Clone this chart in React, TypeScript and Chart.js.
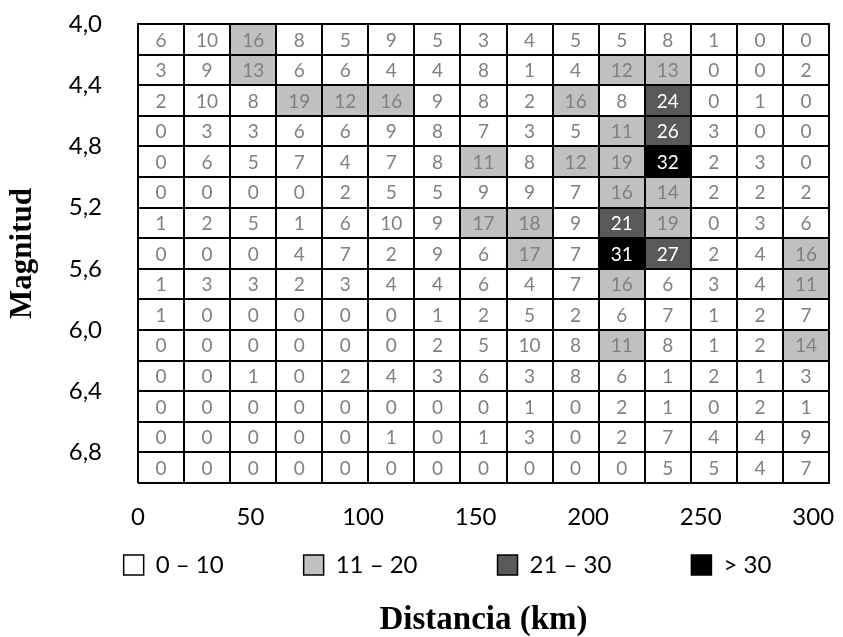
import React, { useEffect, useRef } from 'react';
import { Chart, registerables } from 'chart.js';

Chart.register(...registerables);

// Distance bins (columns, 20 km each) and magnitude rows (top to bottom)
const distanceBins = ['0-20', '20-40', '40-60', '60-80', '80-100', '100-120', '120-140', '140-160', '160-180', '180-200', '200-220', '220-240', '240-260', '260-280', '280-300'];
const magnitudeRows = ['4,0', '4,2', '4,4', '4,6', '4,8', '5,0', '5,2', '5,4', '5,6', '5,8', '6,0', '6,2', '6,4', '6,6', '6,8'];

// Counts per magnitude row, one value per distance bin
const m40 = [6, 10, 16, 8, 5, 9, 5, 3, 4, 5, 5, 8, 1, 0, 0];
const m42 = [3, 9, 13, 6, 6, 4, 4, 8, 1, 4, 12, 13, 0, 0, 2];
const m44 = [2, 10, 8, 19, 12, 16, 9, 8, 2, 16, 8, 24, 0, 1, 0];
const m46 = [0, 3, 3, 6, 6, 9, 8, 7, 3, 5, 11, 26, 3, 0, 0];
const m48 = [0, 6, 5, 7, 4, 7, 8, 11, 8, 12, 19, 32, 2, 3, 0];
const m50 = [0, 0, 0, 0, 2, 5, 5, 9, 9, 7, 16, 14, 2, 2, 2];
const m52 = [1, 2, 5, 1, 6, 10, 9, 17, 18, 9, 21, 19, 0, 3, 6];
const m54 = [0, 0, 0, 4, 7, 2, 9, 6, 17, 7, 31, 27, 2, 4, 16];
const m56 = [1, 3, 3, 2, 3, 4, 4, 6, 4, 7, 16, 6, 3, 4, 11];
const m58 = [1, 0, 0, 0, 0, 0, 1, 2, 5, 2, 6, 7, 1, 2, 7];
const m60 = [0, 0, 0, 0, 0, 0, 2, 5, 10, 8, 11, 8, 1, 2, 14];
const m62 = [0, 0, 1, 0, 2, 4, 3, 6, 3, 8, 6, 1, 2, 1, 3];
const m64 = [0, 0, 0, 0, 0, 0, 0, 0, 1, 0, 2, 1, 0, 2, 1];
const m66 = [0, 0, 0, 0, 0, 1, 0, 1, 3, 0, 2, 7, 4, 4, 9];
const m68 = [0, 0, 0, 0, 0, 0, 0, 0, 0, 0, 0, 5, 5, 4, 7];

// Axis tick labels
const xTickValues = [0, 50, 100, 150, 200, 250, 300];
const yTickValues = [4.0, 4.4, 4.8, 5.2, 5.6, 6.0, 6.4, 6.8];

// Legend classes
const legendLabels = ['0 – 10', '11 – 20', '21 – 30', '> 30'];
const legendColors = ['#FFFFFF', '#C0C0C0', '#595959', '#000000'];
const classUpperBounds = [10, 20, 30];

const rowsData = [m40, m42, m44, m46, m48, m50, m52, m54, m56, m58, m60, m62, m64, m66, m68];

function classOf(v: number): number {
  for (let i = 0; i < classUpperBounds.length; i++) {
    if (v <= classUpperBounds[i]) return i;
  }
  return classUpperBounds.length;
}

const cellTextPlugin = {
  id: 'cellText',
  afterDatasetsDraw(chart: any) {
    const ctx = chart.ctx;
    ctx.save();
    ctx.font = '19px Lato';
    ctx.textAlign = 'center';
    ctx.textBaseline = 'middle';
    chart.data.datasets.forEach((ds: any, i: number) => {
      const meta = chart.getDatasetMeta(i);
      meta.data.forEach((el: any, j: number) => {
        const v = ds.values[j];
        const c = classOf(v);
        ctx.fillStyle = c >= 2 ? '#FFFFFF' : '#808080';
        const p = el.getCenterPoint();
        ctx.fillText(String(v), p.x, p.y + 1);
      });
    });
    ctx.restore();
  },
};

// moves the legend row a little to the right, as in the original figure
const legendShiftPlugin = {
  id: 'legendShift',
  afterLayout(chart: any) {
    const lg = chart.legend;
    if (lg) {
      lg.left += 33;
      lg.right += 33;
    }
  },
};

export default function App() {
  const canvasRef = useRef<HTMLCanvasElement | null>(null);

  useEffect(() => {
    if (!canvasRef.current) return;
    Chart.defaults.font.family = 'Lato';

    const datasets = rowsData.map((vals, r) => ({
      label: magnitudeRows[r],
      data: vals.map(() => [r, r + 1]),
      values: vals,
      backgroundColor: vals.map((v) => legendColors[classOf(v)]),
      borderWidth: 0,
      grouped: false,
      barPercentage: 1,
      categoryPercentage: 1,
      xAxisID: 'xc',
      yAxisID: 'yr',
    }));

    const chart = new Chart(canvasRef.current, {
      type: 'bar',
      data: { labels: distanceBins, datasets: datasets as any },
      plugins: [cellTextPlugin, legendShiftPlugin],
      options: {
        animation: false,
        responsive: true,
        maintainAspectRatio: false,
        layout: { autoPadding: false, padding: { top: 24, right: 14, bottom: 0, left: 0 } },
        scales: {
          xc: {
            type: 'category',
            position: 'top',
            offset: true,
            grid: { display: true, offset: true, color: '#000', lineWidth: 2, drawTicks: false, z: 1 },
            border: { display: true, color: '#000', width: 2, z: 1 },
            ticks: { display: false },
          },
          yr: {
            type: 'linear',
            position: 'right',
            reverse: true,
            offset: false,
            min: 0,
            max: 15,
            grid: { display: true, offset: false, color: '#000', lineWidth: 2, drawTicks: false, z: 1 },
            border: { display: true, color: '#000', width: 2, z: 1 },
            ticks: { display: false, stepSize: 1 },
          },
          x: {
            type: 'linear',
            position: 'bottom',
            offset: false,
            min: 0,
            max: 307,
            afterBuildTicks: (scale: any) => {
              scale.ticks = xTickValues.map((v) => ({ value: v }));
            },
            afterFit: (scale: any) => {
              scale.height = 68;
              scale.paddingLeft = 0;
              scale.paddingRight = 0;
            },
            grid: { display: false, offset: false, drawTicks: false },
            border: { display: false },
            ticks: { font: { size: 24 }, color: '#000', padding: 20, maxRotation: 0, autoSkip: false },
          },
          y: {
            type: 'linear',
            position: 'left',
            reverse: true,
            offset: false,
            min: 4.0,
            max: 7.0,
            afterBuildTicks: (scale: any) => {
              scale.ticks = yTickValues.map((v) => ({ value: v }));
            },
            afterFit: (scale: any) => {
              scale.width = 138;
              scale.paddingTop = 0;
              scale.paddingBottom = 0;
            },
            grid: { display: false, offset: false, drawTicks: false },
            border: { display: false },
            ticks: {
              font: { size: 24 },
              color: '#000',
              padding: 36,
              autoSkip: false,
              callback: (v: any) => Number(v).toFixed(1).replace('.', ','),
            },
            title: {
              display: true,
              text: 'Magnitud',
              color: '#000',
              font: { family: 'Liberation Serif', size: 31, weight: 'bold', lineHeight: 1.2 },
              padding: { top: 4, bottom: 4 },
            },
          },
        } as any,
        plugins: {
          tooltip: { enabled: false },
          legend: {
            display: true,
            position: 'bottom',
            onClick: () => {},
            title: { display: true, text: '', font: { size: 0 }, padding: { top: -78, bottom: 0 } },
            labels: {
              boxWidth: 20,
              boxHeight: 20,
              padding: 80,
              color: '#000',
              font: { size: 24 },
              generateLabels: () =>
                legendLabels.map((t, i) => ({
                  text: t,
                  fillStyle: legendColors[i],
                  strokeStyle: '#000000',
                  fontColor: '#000000',
                  lineWidth: 1.5,
                  hidden: false,
                  datasetIndex: i,
                })),
            },
          } as any,
          title: {
            display: true,
            position: 'bottom',
            fullSize: false,
            text: 'Distancia (km)',
            color: '#000',
            font: { family: 'Liberation Serif', size: 33, weight: 'bold', lineHeight: 1 },
            padding: { top: 17, bottom: 0 },
          },
        },
      },
    });
    return () => chart.destroy();
  }, []);

  return (
    <div style={{ position: 'fixed', left: 0, top: 0, width: 843, height: 637, background: '#fff' }}>
      <canvas ref={canvasRef} />
    </div>
  );
}
